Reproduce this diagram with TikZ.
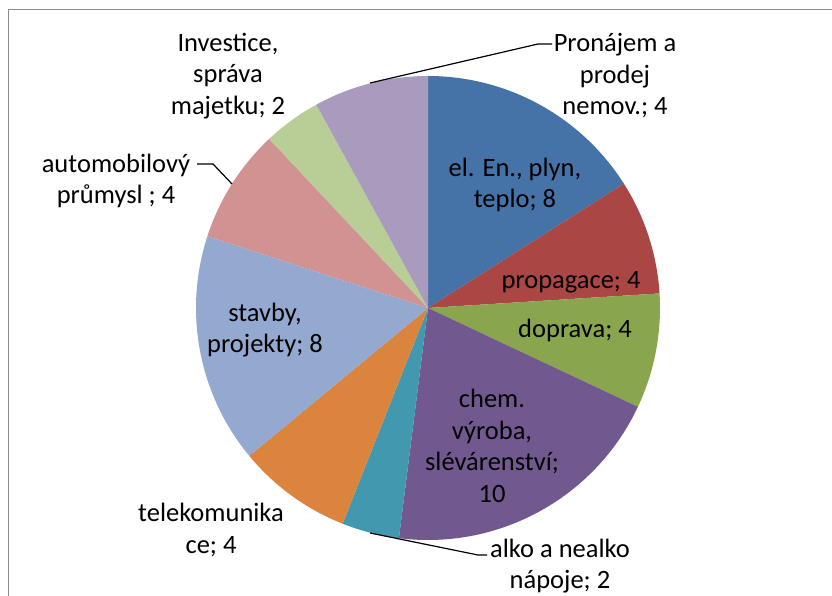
\documentclass[tikz,border=0pt]{standalone}
\usepackage{fontspec}
\setmainfont{Carlito}
\definecolor{pieBlue}{HTML}{4572A7}
\definecolor{pieRed}{HTML}{AA4643}
\definecolor{pieGreen}{HTML}{89A54E}
\definecolor{piePurple}{HTML}{71588F}
\definecolor{pieAqua}{HTML}{4198AF}
\definecolor{pieOrange}{HTML}{DB843D}
\definecolor{pieSky}{HTML}{93A9CF}
\definecolor{piePink}{HTML}{D19392}
\definecolor{pieLime}{HTML}{B9CD96}
\definecolor{pieLilac}{HTML}{A99BBD}
\usepackage{tikz}
\usetikzlibrary{positioning}

\begin{document}
\begin{tikzpicture}[x=1pt, y=1pt,
  lbl/.style={font=\fontsize{26.5}{31.5}\selectfont, align=center, inner sep=0pt},
  lead/.style={black, line width=1.2pt},
  frame/.style={draw=black!45, line width=1.6pt}
]
\useasboundingbox (0,0) rectangle (832,596);
\draw[frame] (8.5,0) -- (8.5,586.5) -- (832,586.5);
\coordinate (O) at (428,288);
% slices, clockwise from the top
\fill[pieBlue]   (O) -- ++(32.4:232)  arc[start angle=32.4,  end angle=90,     radius=232] -- cycle;
\fill[pieRed]    (O) -- ++(3.6:232)   arc[start angle=3.6,   end angle=32.4,   radius=232] -- cycle;
\fill[pieGreen]  (O) -- ++(-25.2:232) arc[start angle=-25.2, end angle=3.6,    radius=232] -- cycle;
\fill[piePurple] (O) -- ++(-97.2:232) arc[start angle=-97.2, end angle=-25.2,  radius=232] -- cycle;
\fill[pieAqua]   (O) -- ++(-111.6:232) arc[start angle=-111.6, end angle=-97.2, radius=232] -- cycle;
\fill[pieOrange] (O) -- ++(-140.4:232) arc[start angle=-140.4, end angle=-111.6, radius=232] -- cycle;
\fill[pieSky]    (O) -- ++(162:232)   arc[start angle=162,   end angle=219.6,  radius=232] -- cycle;
\fill[piePink]   (O) -- ++(133.2:232) arc[start angle=133.2, end angle=162,    radius=232] -- cycle;
\fill[pieLime]   (O) -- ++(118.8:232) arc[start angle=118.8, end angle=133.2,  radius=232] -- cycle;
\fill[pieLilac]  (O) -- ++(90:232)    arc[start angle=90,    end angle=118.8,  radius=232] -- cycle;

% labels inside
\node[lbl] (elen)  at (515,411) {el. En., plyn,\\teplo; 8};
\node[lbl] (prop)  at (571,314) {propagace; 4};
\node[lbl] (dopr)  at (575,266) {doprava; 4};
\node[lbl] (chem)  at (492,150) {chem.\\výroba,\\slévárenství;\\10};
\node[lbl] (stav)  at (265,266) {stavby,\\projekty; 8};
% labels outside
\node[lbl] (pron)  at (615,520) {Pronájem a\\prodej\\nemov.; 4};
\node[lbl] (inve)  at (228,520) {Investice,\\správa\\majetku; 2};
\node[lbl] (auto)  at (116,415) {automobilový\\průmysl ; 4};
\node[lbl] (tele)  at (211,66)  {telekomunika\\ce; 4};
\node[lbl] (alko)  at (560,30)  {alko a nealko\\nápoje; 2};

% leader lines
\coordinate (pronA) at (370,513);
\coordinate (pronB) at (538,552);
\coordinate (pronC) at (552,552);
\coordinate (autoA) at (232,412);
\coordinate (autoB) at (213,432);
\coordinate (autoC) at (197,432);
\coordinate (alkoA) at (370,63);
\coordinate (alkoB) at (478,41);
\coordinate (alkoC) at (487,41);
\draw[lead] (pronA) -- (pronB) -- (pronC);
\draw[lead] (autoA) -- (autoB) -- (autoC);
\draw[lead] (alkoA) -- (alkoB) -- (alkoC);
\end{tikzpicture}
\end{document}
